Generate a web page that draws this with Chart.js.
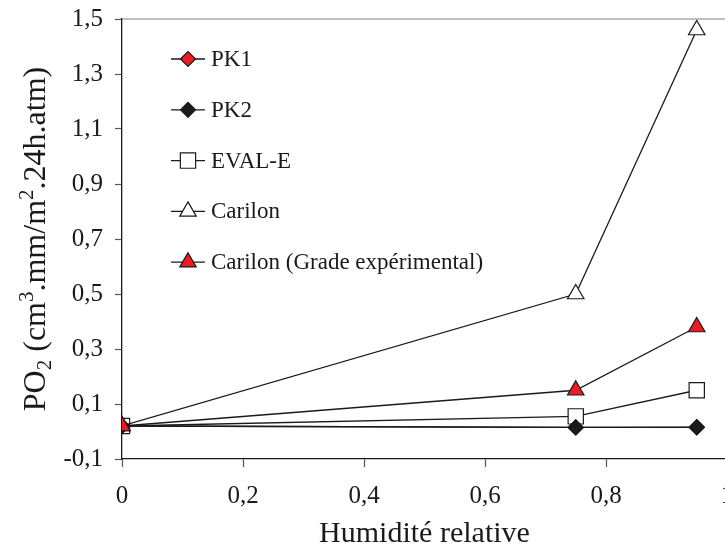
<!DOCTYPE html>
<html>
<head>
<meta charset="utf-8">
<script src="https://cdn.jsdelivr.net/npm/chart.js@4/dist/chart.umd.min.js"></script>
<style>
  html, body { margin: 0; padding: 0; background: #fff; }
  #wrap { width: 725px; height: 552px; overflow: hidden; position: relative; }
  #c { position: absolute; left: 0; top: 0; }
</style>
</head>
<body>
<div id="wrap"><canvas id="c" width="740" height="552"></canvas></div>
<script>
const SERIF = "'Liberation Serif', 'Times New Roman', serif";

// humidité relative (x)
const humidite = [0, 0.75, 0.95];
// PO2 par film
const pk1     = [0.02, 0.015, 0.015];
const pk2     = [0.02, 0.015, 0.016];
const evalE   = [0.02, 0.055, 0.15];
const carilon = [0.02, 0.50, 1.46];
const carilonGrade = [0.02, 0.15, 0.38];

const seriesNames = ['PK1', 'PK2', 'EVAL-E', 'Carilon', 'Carilon (Grade expérimental)'];
const xTicks = [0, 0.2, 0.4, 0.6, 0.8, 1];
const yTitle = [['PO', 0], ['2', -1], [' (cm', 0], ['3', 1], ['.mm/m', 0], ['2', 1], ['.24h.atm)', 0]];

const RED = '#ed1c24';

function pts(ys) { return humidite.map((x, i) => ({ x, y: ys[i] })); }

function ds(label, data, style, fill, radius, order) {
  return {
    label, data: pts(data),
    borderColor: '#1a1a1a', borderWidth: 1.3,
    pointStyle: style, pointRadius: radius, pointHoverRadius: radius,
    pointBackgroundColor: fill, pointBorderColor: '#1a1a1a', pointBorderWidth: 1.2,
    tension: 0, fill: false, order,
  };
}

const datasets = [
  ds(seriesNames[0], pk1, 'rectRot', RED, 7.5, 3),
  ds(seriesNames[1], pk2, 'rectRot', '#1a1a1a', 7.5, 2),
  ds(seriesNames[2], evalE, 'rect', '#fff', 10.8, 5),
  ds(seriesNames[3], carilon, 'triangle', '#fff', 9.5, 4),
  ds(seriesNames[4], carilonGrade, 'triangle', RED, 9.5, 1),
];

// cadre gris en haut / à droite
const framePlugin = {
  id: 'frame',
  beforeDatasetsDraw(chart) {
    const { ctx, chartArea: a } = chart;
    ctx.save();
    ctx.strokeStyle = '#808080';
    ctx.lineWidth = 1.2;
    ctx.beginPath();
    ctx.moveTo(a.left, a.top);
    ctx.lineTo(a.right, a.top);
    ctx.lineTo(a.right, a.bottom);
    ctx.stroke();
    ctx.restore();
  },
};

// légende : trait + symbole
const legendPlugin = {
  id: 'lineLegend',
  afterDraw(chart) {
    const ctx = chart.ctx;
    ctx.save();
    chart.data.datasets.forEach((d, i) => {
      const y = 59 + i * 50.8;
      ctx.strokeStyle = '#1a1a1a';
      ctx.lineWidth = 1.3;
      ctx.beginPath();
      ctx.moveTo(171, y);
      ctx.lineTo(205, y);
      ctx.stroke();
      ctx.fillStyle = d.pointBackgroundColor;
      ctx.strokeStyle = d.pointBorderColor;
      ctx.lineWidth = d.pointBorderWidth;
      Chart.helpers.drawPoint(ctx, { pointStyle: d.pointStyle, radius: d.pointRadius, borderWidth: d.pointBorderWidth }, 188, y);
      ctx.fillStyle = '#1a1a1a';
      ctx.font = '23px ' + SERIF;
      ctx.textBaseline = 'middle';
      ctx.textAlign = 'left';
      ctx.fillText(d.label, 211, y + 1);
    });
    ctx.restore();
  },
};

// titre Y avec indices / exposants
const yTitlePlugin = {
  id: 'yTitle',
  afterDraw(chart) {
    const ctx = chart.ctx;
    const main = '32px ' + SERIF, small = '21px ' + SERIF;
    ctx.save();
    let w = 0;
    yTitle.forEach(([t, k]) => { ctx.font = k ? small : main; w += ctx.measureText(t).width; });
    ctx.translate(45, 239);
    ctx.rotate(-Math.PI / 2);
    ctx.fillStyle = '#1a1a1a';
    ctx.textBaseline = 'alphabetic';
    let x = -w / 2;
    yTitle.forEach(([t, k]) => {
      ctx.font = k ? small : main;
      const dy = k === -1 ? 6 : (k === 1 ? -12 : 0);
      ctx.fillText(t, x, dy);
      x += ctx.measureText(t).width;
    });
    ctx.restore();
  },
};

const fmt = v => (v === 0 || v === 1) ? String(v) : v.toFixed(1).replace('.', ',');

new Chart(document.getElementById('c'), {
  type: 'line',
  data: { datasets },
  options: {
    responsive: false, animation: false,
    layout: { padding: { left: 0, top: 19, right: 13, bottom: 0 } },
    plugins: { legend: { display: false }, tooltip: { enabled: false } },
    scales: {
      x: {
        type: 'linear', min: 0, max: 1,
        afterBuildTicks: s => { s.ticks = xTicks.map(v => ({ value: v })); },
        afterFit: s => { s.height = 93; s.paddingLeft = 0; s.paddingRight = 0; },
        border: { display: true, color: '#1a1a1a', width: 1.3 },
        grid: { drawOnChartArea: false, drawTicks: true, tickLength: 8, color: '#555', tickWidth: 1.2 },
        ticks: { color: '#1a1a1a', font: { family: SERIF, size: 25 }, padding: 14, maxRotation: 0, callback: fmt },
        title: { display: true, text: 'Humidité relative', color: '#1a1a1a', font: { family: SERIF, size: 30 }, padding: { top: 0, bottom: 0 } },
      },
      y: {
        type: 'linear', min: -0.1, max: 1.5,
        ticks: { stepSize: 0.2, color: '#1a1a1a', font: { family: SERIF, size: 25 }, padding: 12, callback: v => v.toFixed(1).replace('.', ',') },
        afterFit: s => { s.width = 122; s.paddingTop = 0; s.paddingBottom = 0; },
        border: { display: true, color: '#1a1a1a', width: 1.3 },
        grid: { drawOnChartArea: false, drawTicks: true, tickLength: 7, color: '#555', tickWidth: 1.2 },
      },
    },
  },
  plugins: [framePlugin, legendPlugin, yTitlePlugin],
});
</script>
</body>
</html>
